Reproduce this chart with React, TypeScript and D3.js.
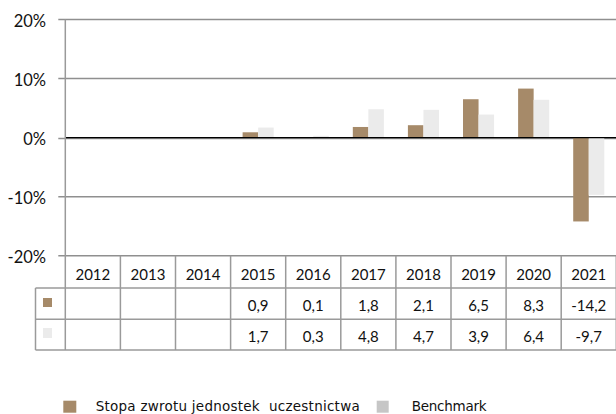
import React from "react";
import * as d3 from "d3";

const years = ["2012", "2013", "2014", "2015", "2016", "2017", "2018", "2019", "2020", "2021"];
const fundValues: (number | null)[] = [null, null, null, 0.9, 0.1, 1.8, 2.1, 6.5, 8.3, -14.2];
const benchmarkValues: (number | null)[] = [null, null, null, 1.7, 0.3, 4.8, 4.7, 3.9, 6.4, -9.7];
const yTicks = [20, 10, 0, -10, -20];
const seriesNames = ["Stopa zwrotu jednostek  uczestnictwa", "Benchmark"];

const W = 616;
const H = 414;
const plotLeft = 65.3;
const plotRight = 616.3;
const yTop = 19.5;
const yBottom = 255.7;
const row1 = 288;
const row2 = 319.2;
const row3 = 350;
const keyLeft = 35.5;

const BROWN = "#A68A69";
const LIGHT = "#EBEBEB";
const LEGEND_GRAY = "#C6C6C6";
const GRID = "#8F8F8F";
const TABLE = "#9A9A9A";

const loc = d3.formatLocale({ decimal: ",", thousands: " ", grouping: [3], currency: ["", ""], minus: "-" });
const fmtVal = loc.format(".1f");
const fmtPct = (v: number) => loc.format("d")(v) + "%";

export default function App() {
  const x = d3.scaleBand<string>().domain(years).range([plotLeft, plotRight]).paddingInner(0).paddingOuter(0);
  const y = d3.scaleLinear().domain([-20, 20]).range([yBottom, yTop]);
  const bw = x.bandwidth();
  const barW = bw * 0.282;
  const y0 = y(0);

  const tableFont = "Lato, 'Open Sans', sans-serif";
  const legendFont = "'DejaVu Sans', Verdana, sans-serif";

  return (
    <svg width={W} height={H} style={{ position: "absolute", left: 0, top: 0, background: "#fff" }}>
      {/* gridlines */}
      {yTicks.map((t) => (
        <g key={t}>
          <line x1={58.3} x2={W + 1} y1={y(t)} y2={y(t)} stroke={GRID} strokeWidth={1.5} transform={t === 0 ? "translate(0,1)" : undefined} />
          <text
            x={46}
            y={y(t) + 7.5}
            textAnchor="end"
            fontFamily={tableFont}
            fontSize={16.5}
            fill="#111"
          >
            {fmtPct(t)}
          </text>
        </g>
      ))}

      {/* bars */}
      {years.map((yr, i) => {
        const cx = (x(yr) as number) + bw / 2;
        const f = fundValues[i];
        const b = benchmarkValues[i];
        return (
          <g key={yr}>
            {f !== null && (
              <rect x={cx - barW} y={Math.min(y(f), y0)} width={barW} height={Math.abs(y(f) - y0)} fill={BROWN} />
            )}
            {b !== null && (
              <rect x={cx} y={Math.min(y(b), y0)} width={barW} height={Math.abs(y(b) - y0)} fill={LIGHT} />
            )}
          </g>
        );
      })}

      {/* zero line */}
      <line x1={plotLeft} x2={W + 1} y1={y0} y2={y0} stroke="#000" strokeWidth={1.3} />

      {/* vertical axis line */}
      <line x1={plotLeft} x2={plotLeft} y1={yTop} y2={row3} stroke={TABLE} strokeWidth={1.5} />

      {/* table */}
      {years.map((yr) => {
        const xr = (x(yr) as number) + bw;
        return <line key={"v" + yr} x1={xr} x2={xr} y1={yBottom} y2={row3} stroke={TABLE} strokeWidth={1.5} />;
      })}
      <line x1={keyLeft} x2={keyLeft} y1={row1} y2={row3} stroke={TABLE} strokeWidth={1.5} />
      {[row1, row2, row3].map((ry) => (
        <line key={"h" + ry} x1={keyLeft} x2={W + 1} y1={ry} y2={ry} stroke={TABLE} strokeWidth={1.5} />
      ))}

      {/* table key swatches */}
      <rect x={43} y={298} width={9} height={9} fill={BROWN} />
      <rect x={43} y={328} width={9} height={10} fill={LIGHT} />

      {/* header years */}
      {years.map((yr) => (
        <text
          key={"t" + yr}
          x={(x(yr) as number) + bw / 2}
          y={279.5}
          textAnchor="middle"
          fontFamily={tableFont}
          fontSize={15}
          fill="#111"
        >
          {yr}
        </text>
      ))}
      {years.map((yr, i) => (
        <g key={"vals" + yr}>
          {fundValues[i] !== null && (
            <text x={(x(yr) as number) + bw / 2} y={311} textAnchor="middle" fontFamily={tableFont} fontSize={15} fill="#111">
              {fmtVal(fundValues[i] as number)}
            </text>
          )}
          {benchmarkValues[i] !== null && (
            <text x={(x(yr) as number) + bw / 2} y={342} textAnchor="middle" fontFamily={tableFont} fontSize={15} fill="#111">
              {fmtVal(benchmarkValues[i] as number)}
            </text>
          )}
        </g>
      ))}

      {/* legend */}
      <rect x={63.3} y={400.7} width={13} height={12} fill={BROWN} />
      <text
        x={95.7}
        y={410.5}
        fontFamily={legendFont}
        fontSize={13.5}
        fill="#111"
        textLength={264}
        lengthAdjust="spacing"
        style={{ whiteSpace: "pre" }}
      >
        {seriesNames[0]}
      </text>
      <rect x={376.7} y={400.7} width={12} height={12} fill={LEGEND_GRAY} />
      <text x={411.7} y={410.5} fontFamily={legendFont} fontSize={13.5} fill="#111" textLength={75} lengthAdjust="spacing">
        {seriesNames[1]}
      </text>
    </svg>
  );
}
